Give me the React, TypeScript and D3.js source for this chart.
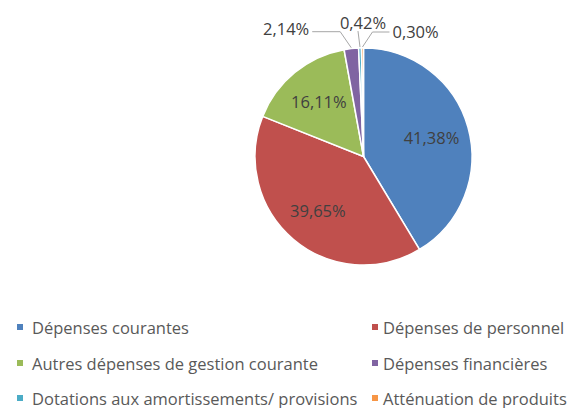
import React from "react";
import * as d3 from "d3";

const categories = [
  "Dépenses courantes",
  "Dépenses de personnel",
  "Autres dépenses de gestion courante",
  "Dépenses financières",
  "Dotations aux amortissements/ provisions",
  "Atténuation de produits",
];
const values = [41.38, 39.65, 16.11, 2.14, 0.42, 0.3];
const colors = ["#4F81BD", "#C0504D", "#9BBB59", "#8064A2", "#4BACC6", "#F79646"];

const W = 575;
const H = 408;
const CX = 363.5;
const CY = 156.5;
const R = 108.5;
const FONT = "'Open Sans', 'DejaVu Sans', sans-serif";
const FS = 16.5;

const locale = d3.formatLocale({
  decimal: ",",
  thousands: " ",
  grouping: [3],
  currency: ["", "€"],
});
const fmt = locale.format(".2f");

// layout for outside labels (offsets relative to the slice edge point)
const outsideLayout: Record<number, { elbow: [number, number]; end: [number, number]; text: [number, number]; anchor: string }> = {
  3: { elbow: [-11, -16], end: [-39, -16], text: [-42, -19], anchor: "end" },
  4: { elbow: [-2, -16], end: [-2, -16], text: [3, -25], anchor: "middle" },
  5: { elbow: [10, -15], end: [27, -15], text: [30, -16], anchor: "start" },
};

const legendRows = [327, 363, 398];
const legendCols = [17, 372];

export default function App() {
  const pie = d3
    .pie<number>()
    .sort(null)
    .value((d) => d)
    .startAngle(0)
    .endAngle(Math.PI * 2);
  const arcs = pie(values);
  const arc = d3.arc<d3.PieArcDatum<number>>().innerRadius(0).outerRadius(R);
  const labelArc = d3
    .arc<d3.PieArcDatum<number>>()
    .innerRadius(R * 0.65)
    .outerRadius(R * 0.65);
  const edgeArc = d3
    .arc<d3.PieArcDatum<number>>()
    .innerRadius(R + 1)
    .outerRadius(R + 1);

  return (
    <svg
      width={W}
      height={H}
      style={{ position: "absolute", left: 0, top: 0, background: "#fff" }}
    >
      <g transform={`translate(${CX},${CY})`}>
        {arcs.map((a, i) => (
          <path
            key={i}
            d={arc(a) || ""}
            fill={colors[i]}
            stroke="#fff"
            strokeWidth={1.5}
            strokeLinejoin="round"
          />
        ))}
        {arcs.map((a, i) => {
          if (i < 3) {
            const [x, y] = labelArc.centroid(a);
            return (
              <text
                key={"l" + i}
                x={x}
                y={y}
                textAnchor="middle"
                dominantBaseline="central"
                fontFamily={FONT}
                fontSize={FS}
                fill="#404040"
              >
                {fmt(values[i]) + "%"}
              </text>
            );
          }
          const L = outsideLayout[i];
          const [px, py] = edgeArc.centroid(a);
          const pts: [number, number][] = [
            [px, py],
            [px + L.elbow[0], py + L.elbow[1]],
            [px + L.end[0], py + L.end[1]],
          ];
          return (
            <g key={"o" + i}>
              <polyline
                points={pts.map((p) => p.join(",")).join(" ")}
                fill="none"
                stroke="#a6a6a6"
                strokeWidth={1}
              />
              <text
                x={px + L.text[0]}
                y={py + L.text[1]}
                textAnchor={L.anchor as any}
                dominantBaseline="central"
                fontFamily={FONT}
                fontSize={FS}
                fill="#404040"
              >
                {fmt(values[i]) + "%"}
              </text>
            </g>
          );
        })}
      </g>
      {categories.map((c, i) => {
        const col = i % 2;
        const row = Math.floor(i / 2);
        const x = legendCols[col];
        const y = legendRows[row];
        return (
          <g key={"lg" + i}>
            <rect x={x} y={y - 3} width={6} height={6} fill={colors[i]} />
            <text
              x={x + (col === 0 ? 15 : 11)}
              y={y}
              dominantBaseline="central"
              fontFamily={FONT}
              fontSize={FS}
              fill="#595959"
            >
              {c}
            </text>
          </g>
        );
      })}
    </svg>
  );
}
